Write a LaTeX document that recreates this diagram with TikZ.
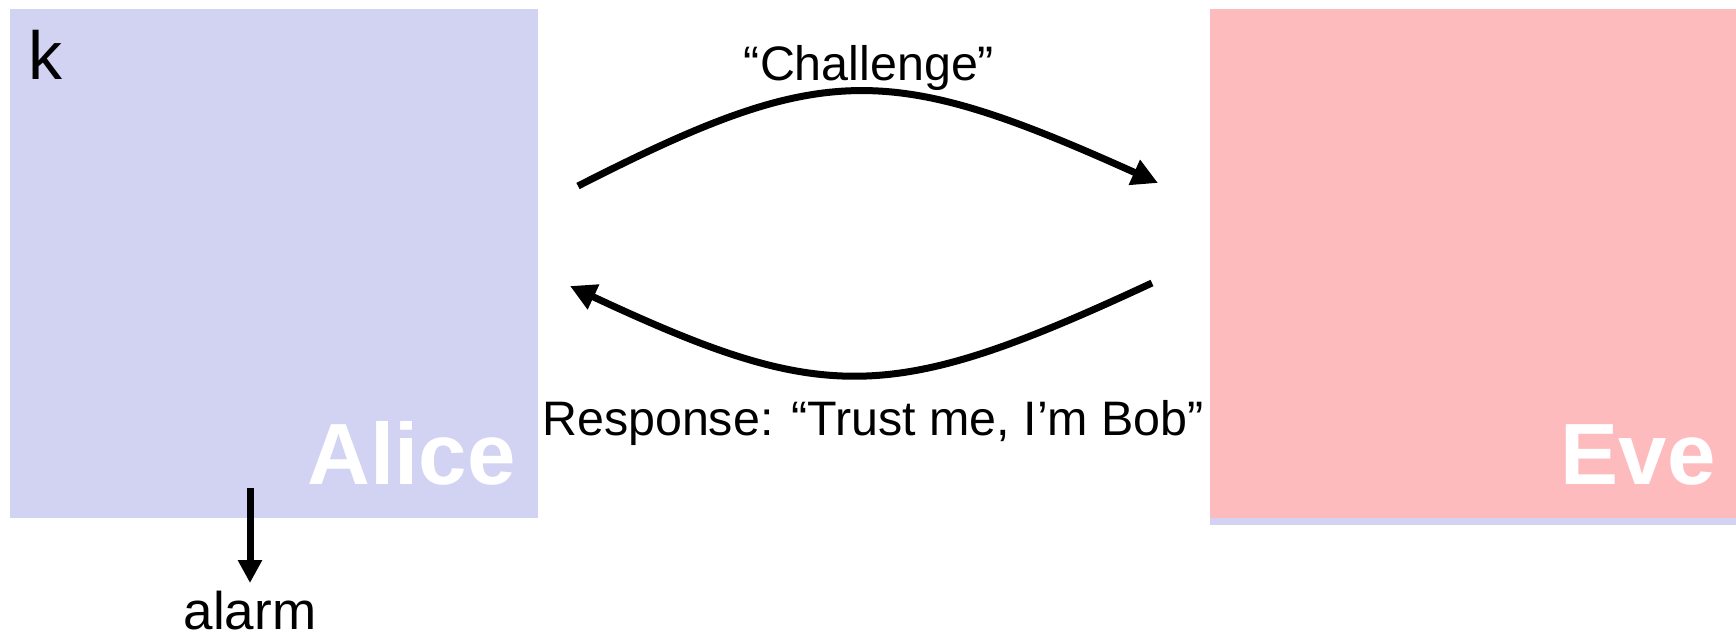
\documentclass[tikz,border=0pt]{standalone}
\usepackage{fontspec}
\setmainfont{Liberation Sans}
\usetikzlibrary{arrows.meta}
\definecolor{alicebg}{RGB}{210,211,243}
\definecolor{evebg}{RGB}{254,187,189}
\tikzset{
  box/.style={inner sep=0pt, outer sep=0pt},
  bigname/.style={text=white, font=\fontsize{43.5}{50}\selectfont\bfseries, inner sep=0pt},
  lbl/.style={font=\fontsize{24.2}{28}\selectfont, inner sep=0pt},
  msg/.style={line width=3.5pt, -{Triangle[length=13pt,width=13pt]}},
  alarmarrow/.style={line width=3.5pt, -{Triangle[length=11.5pt,width=11.5pt]}}
}
\begin{document}
\begin{tikzpicture}[x=0.5pt,y=-0.5pt]
\useasboundingbox (0,0) rectangle (1736,631);
% boxes
\fill[alicebg] (10,9) rectangle (538,518);
\node[box, minimum width=264pt, minimum height=254.5pt] (alice) at (274,263.5) {};
\fill[alicebg] (1210,518) rectangle (1736,525);
\fill[evebg] (1210,9) rectangle (1736,518);
\node[box, minimum width=263pt, minimum height=254.5pt] (eve) at (1473,263.5) {};
% labels in boxes
\node[bigname, anchor=base east] (alicelbl) at (516,484) {Alice};
\node[bigname, anchor=base east] (evelbl) at (1716,484) {Eve};
\node[anchor=base west, inner sep=0pt, font=\fontsize{34}{40}\selectfont] (key) at (28,80) {k};
% connector end points
\coordinate (cs) at (578,186);
\coordinate (ce) at (1158,183);
\coordinate (rs) at (1152,283);
\coordinate (re) at (570,286);
\draw[msg] (cs) .. controls (823,61) and (887,61) .. (ce);
\draw[msg] (rs) .. controls (890,405) and (825,405) .. (re);
\node[lbl, anchor=base] (chal) at (869,81) {“Challenge”};
\node[lbl, anchor=base] (resp) at (873,435) {Response: “Trust me, I’m Bob”};
% alarm
\coordinate (as) at (250,488);
\node[anchor=base, inner sep=0pt, font=\fontsize{26.5}{30}\selectfont] (alarm) at (250,629) {alarm};
\coordinate (ae) at (250,583);
\draw[alarmarrow] (as) -- (ae);
\end{tikzpicture}
\end{document}
